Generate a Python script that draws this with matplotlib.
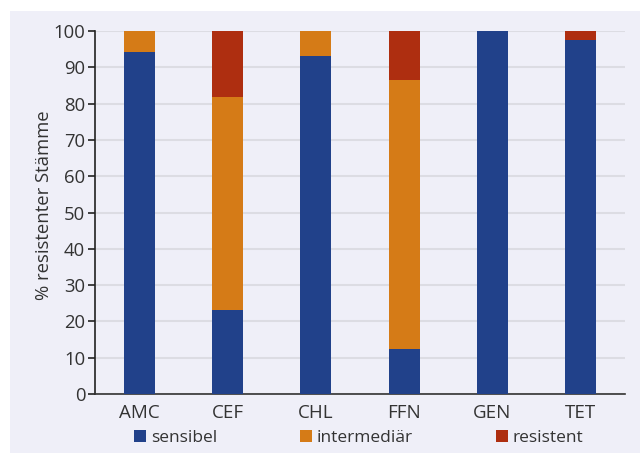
import matplotlib
matplotlib.use("Agg")
import matplotlib.pyplot as plt
from matplotlib.patches import Rectangle, Patch

plt.rcParams['font.family'] = ['Open Sans', 'DejaVu Sans']

categories = ["AMC", "CEF", "CHL", "FFN", "GEN", "TET"]
sensibel = [94.2, 23.2, 93.1, 12.4, 100.0, 97.5]
intermediaer = [5.8, 58.6, 6.9, 74.1, 0.0, 0.0]
resistent = [0.0, 18.2, 0.0, 13.5, 0.0, 2.5]
series_names = ["sensibel", "intermediär", "resistent"]
yticks = [0, 10, 20, 30, 40, 50, 60, 70, 80, 90, 100]

colors = ["#21418a", "#d57b17", "#ae2e10"]
bg = "#efeff8"
txt = "#333333"

fig = plt.figure(figsize=(6.4, 4.53), dpi=100, facecolor="white")
fig.patches.append(Rectangle((10/640, 0), 1 - 10/640, 1 - 11/453,
                             transform=fig.transFigure, facecolor=bg,
                             edgecolor="none", zorder=-10))
ax = fig.add_axes([95/640, 1 - 394/453, 530/640, 363/453])
ax.set_zorder(1)
ax.set_facecolor(bg)

x = list(range(len(categories)))
w = 0.35
bottom2 = [a + b for a, b in zip(sensibel, intermediaer)]
ax.bar(x, sensibel, w, color=colors[0], zorder=3)
ax.bar(x, intermediaer, w, bottom=sensibel, color=colors[1], zorder=3)
ax.bar(x, resistent, w, bottom=bottom2, color=colors[2], zorder=3)

ax.set_xlim(-0.5, len(categories) - 0.5)
ax.set_ylim(0, 100)
ax.set_yticks(yticks)
ax.set_xticks(x)
ax.set_xticklabels(categories)
ax.yaxis.grid(True, color="#dcdce3", linewidth=1.5, zorder=0)
ax.set_axisbelow(True)
for s in ["top", "right"]:
    ax.spines[s].set_visible(False)
ax.spines["left"].set_color("#222222")
ax.spines["bottom"].set_color("#333333")
ax.spines["left"].set_linewidth(1.2)
ax.spines["bottom"].set_linewidth(1.2)
ax.tick_params(axis="y", direction="out", length=5, width=1.2, colors="#222222",
               labelcolor=txt, labelsize=13.3, pad=2)
ax.tick_params(axis="x", length=0, labelcolor=txt, labelsize=13.5, pad=7)
ax.set_ylabel("% resistenter Stämme", fontsize=13.3, color=txt)
ax.yaxis.set_label_coords(-0.079, 0.52)

handles = [Patch(facecolor=c, edgecolor="none") for c in colors]
fig.legend(handles, series_names, loc="center", bbox_to_anchor=(0.5603, 1 - 438/453),
           ncol=3, frameon=False, fontsize=12.5, handlelength=0.7, handleheight=0.7,
           handletextpad=0.3, columnspacing=4.75, labelcolor=txt)

fig.savefig("out.png", dpi=100, facecolor="white")
